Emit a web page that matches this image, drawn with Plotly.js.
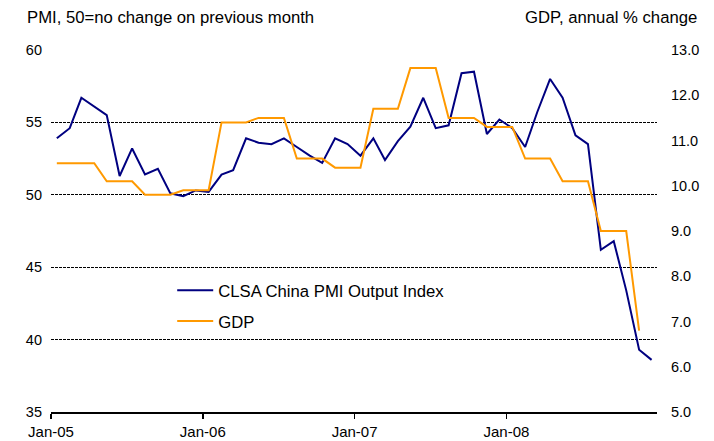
<!DOCTYPE html>
<html>
<head>
<meta charset="utf-8">
<script src="https://cdn.plot.ly/plotly-3.0.1.min.js"></script>
<style>
  html, body { margin: 0; padding: 0; background: #fff; }
  #chart { width: 714px; height: 441px; }
</style>
</head>
<body>
<div id="chart"></div>
<script>
// Months (mid-month dates)
const months = [
  '2005-01-15','2005-02-15','2005-03-15','2005-04-15','2005-05-15','2005-06-15',
  '2005-07-15','2005-08-15','2005-09-15','2005-10-15','2005-11-15','2005-12-15',
  '2006-01-15','2006-02-15','2006-03-15','2006-04-15','2006-05-15','2006-06-15',
  '2006-07-15','2006-08-15','2006-09-15','2006-10-15','2006-11-15','2006-12-15',
  '2007-01-15','2007-02-15','2007-03-15','2007-04-15','2007-05-15','2007-06-15',
  '2007-07-15','2007-08-15','2007-09-15','2007-10-15','2007-11-15','2007-12-15',
  '2008-01-15','2008-02-15','2008-03-15','2008-04-15','2008-05-15','2008-06-15',
  '2008-07-15','2008-08-15','2008-09-15','2008-10-15','2008-11-15','2008-12-15'
];

// CLSA China PMI Output Index (left axis)
const pmi = [
  53.9, 54.6, 56.7, 56.1, 55.5, 51.3, 53.2, 51.4, 51.8, 50.1, 49.9, 50.3,
  50.2, 51.4, 51.7, 53.9, 53.6, 53.5, 53.9, 53.3, 52.7, 52.2, 53.9, 53.5,
  52.7, 53.9, 52.4, 53.7, 54.7, 56.7, 54.6, 54.8, 58.4, 58.5, 54.2, 55.2,
  54.6, 53.3, 55.7, 58.0, 56.7, 54.1, 53.5, 46.2, 46.8, 43.4, 39.3, 38.6
];

// GDP, annual % change (right axis)
const gdp = [
  10.5, 10.5, 10.5, 10.5, 10.1, 10.1, 10.1, 9.8, 9.8, 9.8, 9.9, 9.9,
  9.9, 11.4, 11.4, 11.4, 11.5, 11.5, 11.5, 10.6, 10.6, 10.6, 10.4, 10.4,
  10.4, 11.7, 11.7, 11.7, 12.6, 12.6, 12.6, 11.5, 11.5, 11.5, 11.3, 11.3,
  11.3, 10.6, 10.6, 10.6, 10.1, 10.1, 10.1, 9.0, 9.0, 9.0, 6.8, null
];

const xTickVals = ['2005-01-01','2006-01-01','2007-01-01','2008-01-01'];
const xTickText = ['Jan-05','Jan-06','Jan-07','Jan-08'];
const leftTicks = [35, 40, 45, 50, 55, 60];
const rightTicks = [5, 6, 7, 8, 9, 10, 11, 12, 13];

const seriesNames = ['CLSA China PMI Output Index', 'GDP'];
const leftTitle = 'PMI, 50=no change on previous month';
const rightTitle = 'GDP, annual % change';

const FONT = 'Arial, "Liberation Sans", sans-serif';

const traces = [
  {
    x: months, y: pmi, name: seriesNames[0], type: 'scatter', mode: 'lines',
    line: { color: '#000080', width: 2 }, yaxis: 'y', legendgroup: 'a'
  },
  {
    x: months, y: gdp, name: seriesNames[1], type: 'scatter', mode: 'lines',
    line: { color: '#FF9900', width: 2 }, yaxis: 'y2', legendgroup: 'b',
    connectgaps: false
  }
];

const layout = {
  width: 714, height: 441,
  margin: { l: 51, r: 57, t: 50, b: 29, pad: 0 },
  paper_bgcolor: '#ffffff', plot_bgcolor: '#ffffff',
  font: { family: FONT, size: 14.5, color: '#000' },
  showlegend: true,
  legend: {
    x: 0.2, y: 0.384, xanchor: 'left', yanchor: 'top',
    bgcolor: 'rgba(0,0,0,0)', borderwidth: 0,
    font: { family: FONT, size: 16.7, color: '#000' },
    traceorder: 'grouped', tracegroupgap: 6, itemwidth: 36
  },
  xaxis: {
    type: 'date',
    range: ['2005-01-01', '2008-12-28'],
    tickvals: xTickVals, ticktext: xTickText,
    showgrid: false, zeroline: false,
    showline: true, linecolor: '#000', linewidth: 2,
    ticks: 'outside', ticklen: 5, tickwidth: 1.5, tickcolor: '#000',
    tickfont: { family: FONT, size: 15, color: '#000' },
    fixedrange: true
  },
  yaxis: {
    range: [35, 60], tickvals: leftTicks,
    showgrid: true, gridcolor: '#000', gridwidth: 1, griddash: '3px,1px',
    zeroline: false, showline: false, ticks: '',
    ticklabelstandoff: 8,
    tickfont: { family: FONT, size: 14.5, color: '#000' },
    fixedrange: true
  },
  yaxis2: {
    range: [5, 13], tickvals: rightTicks, tickformat: '.1f',
    overlaying: 'y', side: 'right',
    showgrid: false, zeroline: false, showline: false, ticks: '',
    ticklabelstandoff: 13,
    tickfont: { family: FONT, size: 14.5, color: '#000' },
    fixedrange: true
  },
  annotations: [
    {
      text: leftTitle, xref: 'paper', yref: 'paper',
      x: -0.043, y: 1.0, xanchor: 'left', yanchor: 'bottom', yshift: 21,
      showarrow: false, font: { family: FONT, size: 16.7, color: '#000' }
    },
    {
      text: rightTitle, xref: 'paper', yref: 'paper',
      x: 1.07, y: 1.0, xanchor: 'right', yanchor: 'bottom', yshift: 21,
      showarrow: false, font: { family: FONT, size: 16.7, color: '#000' }
    }
  ]
};

Plotly.newPlot('chart', traces, layout, { displayModeBar: false, staticPlot: true });
</script>
</body>
</html>
